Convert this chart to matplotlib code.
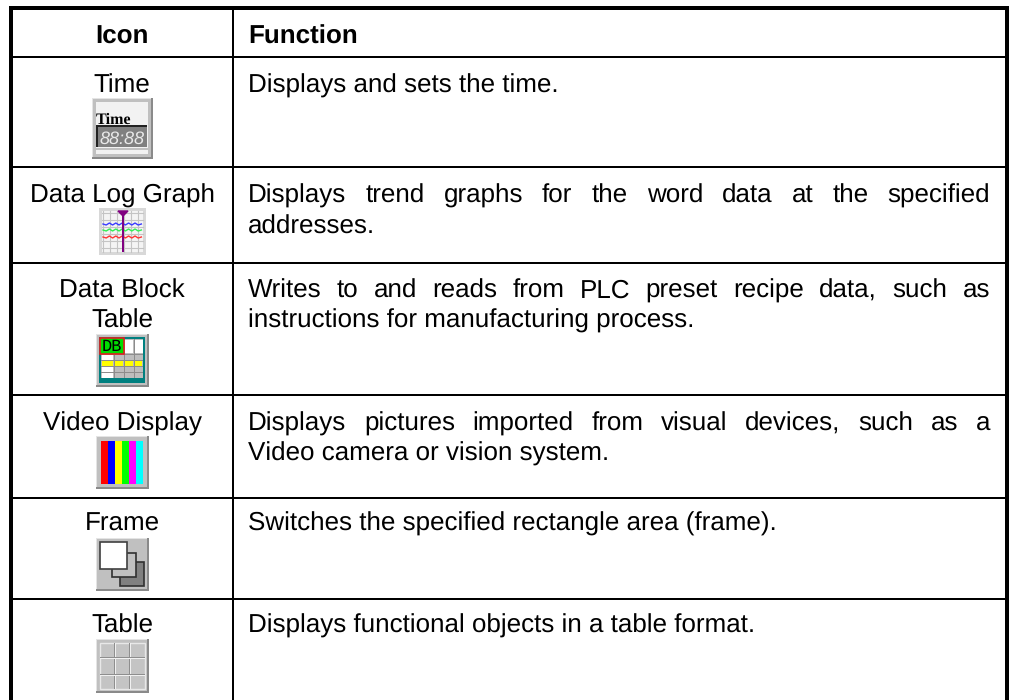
import matplotlib
matplotlib.use("Agg")
import matplotlib.pyplot as plt
from matplotlib.patches import Rectangle

plt.rcParams['font.family'] = ['Liberation Sans', 'DejaVu Sans']
plt.rcParams['text.hinting'] = 'no_hinting'
plt.rcParams['text.hinting_factor'] = 1

FS = 18.6
NUDGE = 0.8  # text sat a pixel high without it

headers = ["Icon", "Function"]
icon_names = [["Time"], ["Data Log Graph"], ["Data Block", "Table"], ["Video Display"], ["Frame"], ["Table"]]
functions = [
    [("Displays and sets the time.", False)],
    [("Displays trend graphs for the word data at the specified", True), ("addresses.", False)],
    [("Writes to and reads from PLC preset recipe data, such as", True), ("instructions for manufacturing process.", False)],
    [("Displays pictures imported from visual devices, such as a", True), ("Video camera or vision system.", False)],
    [("Switches the specified rectangle area (frame).", False)],
    [("Displays functional objects in a table format.", False)],
]
name_baselines = [[92], [202], [297, 327], [430], [530], [632]]
func_baselines = [[92], [202, 233], [297, 327], [430, 460], [530], [632]]
row_lines = [57, 167, 263, 395, 498, 599]
video_colors = ["#ff0000", "#0000ff", "#ffff00", "#00ff00", "#ff00ff", "#00ffff"]
trend_wiggle = [0, 1, -1, 1, -1, 1, -1, 1, -1, 1, -1, 1, 0]

fig = plt.figure(figsize=(10.1, 7), dpi=100)
ax = fig.add_axes([0, 0, 1, 1])
ax.set_xlim(0, 1010)
ax.set_ylim(700, 0)
ax.axis('off')


def box(x0, y0, x1, y1, color, ec='none', lw=0, z=2):
    ax.add_patch(Rectangle((x0, y0), x1 - x0, y1 - y0, fc=color, ec=ec, lw=lw, zorder=z))


def button(x0, y0, x1, y1):
    box(x0, y0, x1, y1, "#c0c0c0")
    box(x1 - 2, y0, x1, y1, "#8a8a8a", z=3)
    box(x0, y1 - 2, x1, y1, "#8a8a8a", z=3)
    box(x0, y0, x1 - 2, y0 + 1, "#e4e4e4", z=3)
    box(x0, y0, x0 + 1, y1 - 2, "#e4e4e4", z=3)


def justified(line, x0, x1, y):
    words = line.split(" ")
    r = fig.canvas.get_renderer()
    ts = [ax.text(x0, y, w, fontsize=FS, va='baseline', ha='left', color='black') for w in words]
    widths = [t.get_window_extent(r).width for t in ts]
    gap = (x1 - x0 - sum(widths)) / (len(words) - 1)
    x = x0
    for t, w in zip(ts, widths):
        t.set_x(x)
        x += w + gap


# table rules
box(9, 6, 1009, 10, "black")
box(9, 6, 13, 700, "black")
box(1005, 6, 1009, 700, "black")
box(232, 10, 234, 700, "black")
for y in row_lines:
    box(13, y - 1, 1005, y + 1, "black")

# header
ax.text(122, 43 + NUDGE, headers[0], fontsize=FS, fontweight='bold', ha='center', va='baseline')
ax.text(248, 43 + NUDGE, headers[1], fontsize=FS, fontweight='bold', ha='left', va='baseline')

# rows
for names, nb, func, fb in zip(icon_names, name_baselines, functions, func_baselines):
    for n, y in zip(names, nb):
        ax.text(122, y + NUDGE, n, fontsize=FS, ha='center', va='baseline')
    for (line, just), y in zip(func, fb):
        if just:
            justified(line, 248, 990, y + NUDGE)
        else:
            ax.text(248, y + NUDGE, line, fontsize=FS, ha='left', va='baseline')

# Time icon
button(92, 98, 153, 159)
box(96, 102, 148, 154, "#f2f2f2", z=3)
box(96, 148, 148, 149.5, "#c0c0c0", z=4)
ax.text(96, 124, "Time", fontsize=11.5, fontweight='bold', family='Liberation Serif', va='baseline', zorder=4)
box(96, 125, 147, 147, "#808080", z=4)
box(96, 125, 147, 127, "#222222", z=5)
box(96, 125, 97.5, 147, "#222222", z=5)
ax.text(122, 144, "88:88", fontsize=13, style='italic', color='#e8e8e8', ha='center', va='baseline', zorder=6)

# Data log graph icon
box(99, 208, 146, 255, "#d8d8d8")
box(102, 211, 143, 252, "#f4f4f4", z=3)
for v in range(103, 143, 7):
    ax.plot([v, v], [211, 252], color="#c4c4c4", lw=0.8, zorder=4)
for h in range(213, 252, 7):
    ax.plot([102, 143], [h, h], color="#c4c4c4", lw=0.8, zorder=4)
for c, y in zip(["#3a3aff", "#33ee55", "#ff3333"], [224, 230, 237]):
    xs = [103 + i * 3.2 for i in range(len(trend_wiggle))]
    ax.plot(xs, [y + w for w in trend_wiggle], color=c, lw=1, zorder=5)
box(122, 211, 124, 252, "#800080", z=6)
ax.fill([118, 128, 123], [211, 211, 216], color="#800080", zorder=6)

# Data block icon
button(96, 334, 149, 387)
box(99, 337, 145, 383, "#008080", z=3)
box(101, 339, 143, 378, "#bdbdbd", z=4)
for v in [114, 124, 134]:
    box(v, 339, v + 1, 378, "#8c8c8c", z=5)
for h in [354, 360, 366, 372]:
    box(101, h, 143, h + 1, "#8c8c8c", z=5)
box(125, 340, 133, 353, "white", z=6)
box(135, 340, 143, 353, "white", z=6)
for y0, y1 in [(355, 360), (367, 372), (373, 378)]:
    box(102, y0, 113, y1, "white", z=6)
for x0, x1 in [(102, 113), (115, 123), (125, 133), (135, 142)]:
    box(x0, 361, x1, 366, "#ffff00", z=6)
box(100, 338, 124, 354, "#00dd00", ec="#e02020", lw=1.2, z=7)
ax.text(112, 351, "DB", fontsize=12.5, family='Liberation Mono', ha='center', va='baseline', zorder=8)

# Video display icon
button(96, 436, 149, 489)
for i, c in enumerate(video_colors):
    box(101 + i * 7, 441, 108 + i * 7, 484, c, z=3)

# Frame icon
button(96, 538, 149, 591)
box(120, 562, 144, 586, "#808080", ec="#303030", lw=1.2, z=3)
box(112, 553, 136, 577, "#c0c0c0", ec="#303030", lw=1.2, z=4)
box(100, 542, 127, 569, "white", ec="#404040", lw=1.2, z=5)

# Table icon
button(96, 639, 149, 693)
box(100, 643, 145, 689, "#c4c4c4", ec="#e8e8e8", lw=1, z=3)
for v in [115, 130]:
    box(v, 643, v + 1, 689, "#f0f0f0", z=4)
    box(v - 1, 643, v, 689, "#8e8e8e", z=4)
for h in [658, 675]:
    box(100, h, 145, h + 1, "#f0f0f0", z=4)
    box(100, h - 1, 145, h, "#8e8e8e", z=4)

fig.savefig("out.png", dpi=100)
